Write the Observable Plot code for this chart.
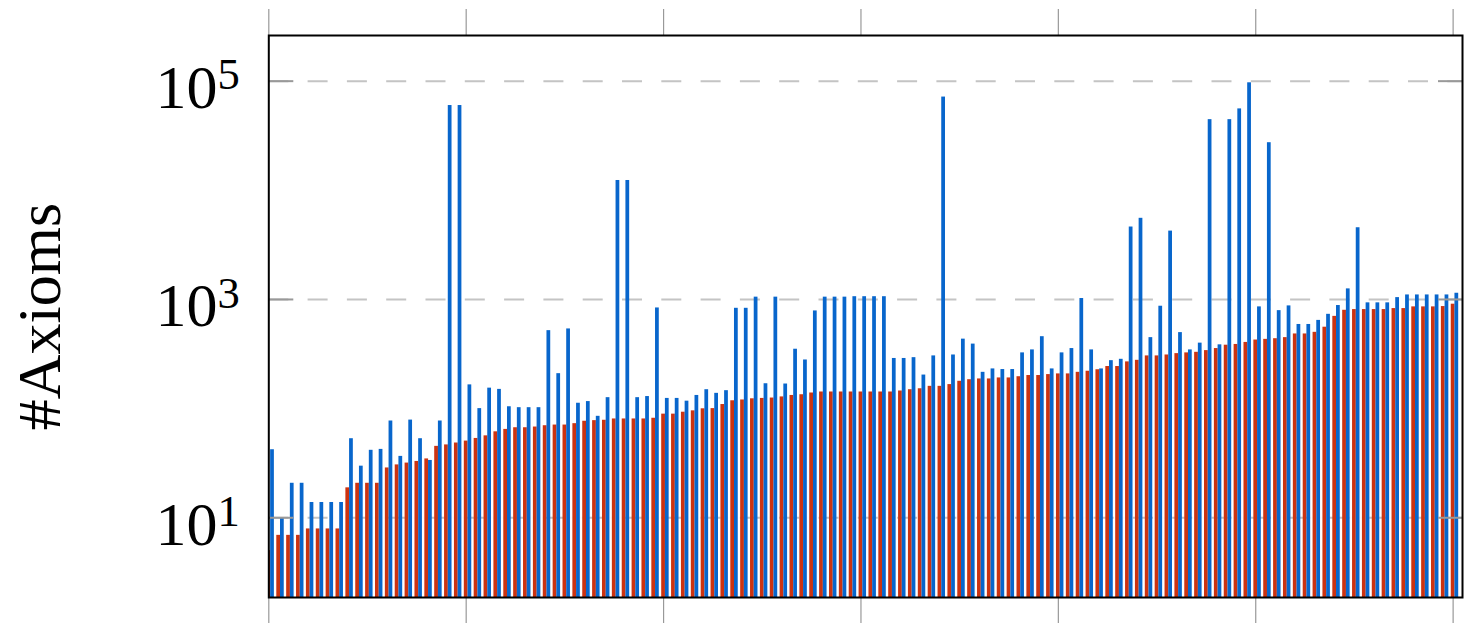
<!DOCTYPE html>
<html>
<head>
<meta charset="utf-8">
<script src="https://cdn.jsdelivr.net/npm/d3@7"></script>
<script src="https://cdn.jsdelivr.net/npm/@observablehq/plot@0.6"></script>
<style>
  html, body { margin: 0; padding: 0; background: #ffffff; }
  #chart { width: 1478px; height: 623px; overflow: hidden; }
</style>
</head>
<body>
<div id="chart"></div>
<script>
// ---- Data ----
const categories = d3.range(0, 121); // instance index 0..120

const seriesA = [ // red bars (sorted ascending)
  5.0, 6.9, 6.9, 6.9, 7.9, 7.9, 7.9, 7.9, 18.8, 20.7,
  20.7, 20.7, 28.6, 30.5, 31.7, 32.8, 34.6, 45.1, 46.5, 48.4,
  50.4, 53.3, 56.3, 61.3, 64.5, 66.8, 66.8, 67.8, 69.7, 70.7,
  70.7, 72.8, 76.6, 77.6, 78.2, 80.4, 80.4, 80.4, 80.4, 81.6,
  89, 89, 92.7, 95.4, 99.6, 100, 109, 118, 120, 123,
  124, 125, 128, 132, 134, 139, 142, 142, 142, 142,
  142, 142, 142, 142, 145, 149, 152, 160, 160, 166,
  178, 184, 187, 187, 191, 191, 196, 201, 201, 205,
  208, 208, 215, 220, 227, 243, 243, 268, 277, 304,
  304, 310, 319, 324, 328, 340, 355, 381, 387, 404,
  425, 431, 437, 447, 483, 483, 500, 557, 700, 796,
  808, 808, 808, 808, 825, 825, 855, 855, 855, 861,
  905
];

const seriesB = [ // blue bars
  42, 10, 20.7, 20.7, 13.8, 13.8, 13.8, 13.8, 53, 29.7,
  41.5, 42.3, 77, 36.5, 78.5, 53, 33.5, 77, 59800, 59800,
  165, 100, 154, 150, 104, 102, 102, 102, 518, 209,
  537, 112, 116, 85, 126, 12300, 12300, 126, 129, 836,
  124, 124, 117, 132, 149, 138, 146, 830, 830, 1050,
  169, 1050, 168, 350, 279, 785, 1050, 1050, 1050, 1060,
  1060, 1060, 1060, 288, 288, 293, 203, 304, 71500, 310,
  433, 390, 215, 231, 228, 228, 324, 345, 456, 231,
  324, 355, 1020, 345, 231, 275, 283, 4610, 5540, 447,
  867, 4230, 497, 345, 398, 44400, 384, 44400, 55700, 96600,
  855, 27300, 790, 873, 590, 590, 643, 731, 880, 1250,
  4540, 931, 931, 931, 1040, 1100, 1100, 1100, 1100, 1100,
  1140
];

const xTicks = [0, 20, 40, 60, 80, 100, 120];
const yTicks = [10, 1000, 100000];
const yTickExponents = ["1", "3", "5"];
const yLabel = "#Axioms";

// ---- Build ----
const table = categories.map((c, i) => ({ idx: c, a: seriesA[i], b: seriesB[i] }));

const yDomain = [1.86, 2.62e5];
const xDomain = [0, 120.95];
const barW = 0.38;     // bar width in index units
const bOffset = 0.375; // offset of the second bar in index units

const chart = Plot.plot({
  width: 1478,
  height: 623,
  marginLeft: 268.3,
  marginRight: 16,
  marginTop: 35,
  marginBottom: 26,
  style: { fontFamily: "'Liberation Serif', 'DejaVu Serif', serif", background: "#ffffff", color: "#000" },
  x: { domain: xDomain, axis: null },
  y: { type: "log", domain: yDomain, axis: null },
  marks: [
    Plot.ruleY(yTicks, { stroke: "#c4c4c4", strokeWidth: 2, strokeDasharray: "20,19.3" }),
    Plot.rectY(table, {
      x1: d => d.idx - barW / 2, x2: d => d.idx + barW / 2,
      y1: yDomain[0], y2: "a",
      fill: "#cc3311", clip: true
    }),
    Plot.rectY(table, {
      x1: d => d.idx + bOffset - barW / 2, x2: d => d.idx + bOffset + barW / 2,
      y1: yDomain[0], y2: "b",
      fill: "#0866cc", clip: true
    }),
    // x ticks outward, top and bottom
    Plot.axisX({ anchor: "bottom", ticks: xTicks, tickSize: 27, tickFormat: () => "", stroke: "#999", strokeWidth: 1.2, label: null }),
    Plot.axisX({ anchor: "top", ticks: xTicks, tickSize: 27, tickFormat: () => "", stroke: "#999", strokeWidth: 1.2, label: null }),
    // y ticks inward, left and right
    Plot.axisY({ anchor: "left", ticks: yTicks, tickSize: -25, tickFormat: () => "", stroke: "#999", strokeWidth: 2, label: null }),
    Plot.axisY({ anchor: "right", ticks: yTicks, tickSize: -25, tickFormat: () => "", stroke: "#999", strokeWidth: 2, label: null }),
    // y tick labels
    Plot.axisY({
      anchor: "left", ticks: yTicks, tickSize: 0, tickPadding: 29,
      tickFormat: d => "10" + yTickExponents[yTicks.indexOf(d)],
      fontSize: 62, dy: 7, label: null
    }),
    Plot.frame({ stroke: "#000", strokeWidth: 2 }),
    Plot.text([yLabel], {
      text: d => d, frameAnchor: "left", rotate: -90, dx: -229,
      fontSize: 62, textAnchor: "middle", lineAnchor: "middle", fill: "#000"
    })
  ]
});

document.getElementById("chart").appendChild(chart);

// Superscript exponents on y tick labels
Array.from(chart.querySelectorAll("text")).forEach(el => {
  const m = /^10(\d)$/.exec((el.textContent || "").trim());
  if (!m) return;
  while (el.firstChild) el.removeChild(el.firstChild);
  const ns = "http://www.w3.org/2000/svg";
  const base = document.createElementNS(ns, "tspan");
  base.textContent = "10";
  const sup = document.createElementNS(ns, "tspan");
  sup.setAttribute("dy", "-0.42em");
  sup.setAttribute("font-size", "0.72em");
  sup.textContent = m[1];
  el.appendChild(base);
  el.appendChild(sup);
});
</script>
</body>
</html>
